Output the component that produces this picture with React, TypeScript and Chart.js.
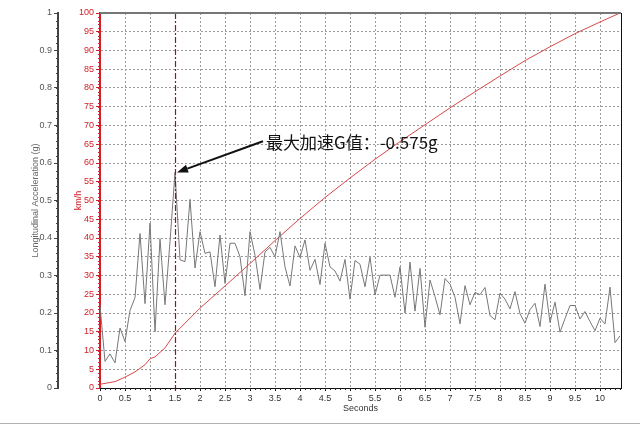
import React, { useEffect, useRef } from 'react';
import { Chart, registerables } from 'chart.js';

Chart.register(...registerables);

const accelTimes = [
  0.0, 0.1, 0.2, 0.3, 0.4, 0.5, 0.6, 0.7, 0.8, 0.9,
  1.0, 1.1, 1.2, 1.3, 1.4, 1.5, 1.6, 1.7, 1.8, 1.9,
  2.0, 2.1, 2.2, 2.3, 2.4, 2.5, 2.6, 2.7, 2.8, 2.9,
  3.0, 3.1, 3.2, 3.3, 3.4, 3.5, 3.6, 3.7, 3.8, 3.9,
  4.0, 4.1, 4.2, 4.3, 4.4, 4.5, 4.6, 4.7, 4.8, 4.9,
  5.0, 5.1, 5.2, 5.3, 5.4, 5.5, 5.6, 5.7, 5.8, 5.9,
  6.0, 6.1, 6.2, 6.3, 6.4, 6.5, 6.6, 6.7, 6.8, 6.9,
  7.0, 7.1, 7.2, 7.3, 7.4, 7.5, 7.6, 7.7, 7.8, 7.9,
  8.0, 8.1, 8.2, 8.3, 8.4, 8.5, 8.6, 8.7, 8.8, 8.9,
  9.0, 9.1, 9.2, 9.3, 9.4, 9.5, 9.6, 9.7, 9.8, 9.9,
  10.0, 10.1, 10.2, 10.3, 10.4,
];

const accelG = [
  0.22, 0.071, 0.091, 0.067, 0.16, 0.124, 0.207, 0.241, 0.412, 0.225,
  0.44, 0.15, 0.398, 0.222, 0.39, 0.575, 0.342, 0.337, 0.503, 0.32,
  0.417, 0.359, 0.363, 0.27, 0.408, 0.279, 0.386, 0.386, 0.35, 0.246,
  0.417, 0.354, 0.263, 0.363, 0.375, 0.35, 0.417, 0.323, 0.272, 0.379,
  0.348, 0.395, 0.314, 0.343, 0.276, 0.386, 0.323, 0.312, 0.285, 0.343,
  0.237, 0.34, 0.33, 0.27, 0.349, 0.248, 0.301, 0.301, 0.301, 0.242,
  0.323, 0.2, 0.336, 0.205, 0.319, 0.162, 0.288, 0.244, 0.195, 0.292,
  0.277, 0.242, 0.171, 0.273, 0.222, 0.255, 0.249, 0.268, 0.193, 0.182,
  0.253, 0.237, 0.211, 0.257, 0.198, 0.173, 0.209, 0.226, 0.164, 0.277,
  0.175, 0.229, 0.149, 0.185, 0.22, 0.22, 0.184, 0.204, 0.177, 0.153,
  0.186, 0.171, 0.269, 0.121, 0.139,
];

const speedTimes = [0, 0.3, 0.5, 0.7, 0.9, 1.0, 1.1, 1.3, 1.5, 2, 2.5, 3, 3.5, 4, 4.5, 5, 5.5, 6, 6.5, 7, 7.5, 8, 8.5, 9, 9.5, 10, 10.4];
const speedKmh = [1, 1.7, 2.9, 4.3, 6.2, 7.8, 8.3, 10.7, 14.6, 21.3, 27.2, 33.2, 39.3, 45.2, 50.8, 56, 61, 65.7, 70.2, 74.7, 79, 83.2, 87.3, 91, 94.5, 97.6, 100];

const markerTime = 1.5;
const peakG = 0.575;
const annotationText = '最大加速G值：-0.575g';
const annotationAt = { t: 3.32, kmh: 65.5 };
const arrowFrom = { t: 3.26, kmh: 65.8 };

const xTitle = 'Seconds';
const gTitle = 'Longitudinal Acceleration (g)';
const speedTitle = 'km/h';

const RED = '#d0202a';

const extrasPlugin = {
  id: 'extras',
  afterDatasetsDraw(chart: any) {
    const { ctx, chartArea } = chart;
    const xs = chart.scales.x;
    ctx.save();
    const mx = Math.round(xs.getPixelForValue(markerTime)) + 0.5;
    ctx.strokeStyle = '#8b1a1a';
    ctx.lineWidth = 1.2;
    ctx.setLineDash([6, 2, 2, 2]);
    ctx.beginPath();
    ctx.moveTo(mx, chartArea.top);
    ctx.lineTo(mx, chartArea.bottom + 4);
    ctx.stroke();
    ctx.setLineDash([]);
    ctx.restore();
  },
  afterDraw(chart: any) {
    const { ctx, chartArea } = chart;
    const xs = chart.scales.x;
    const ks = chart.scales.kmh;
    const gs = chart.scales.g;
    ctx.save();
    ctx.strokeStyle = '#777';
    ctx.lineWidth = 2;
    ctx.beginPath();
    ctx.moveTo(chartArea.left, chartArea.top);
    ctx.lineTo(chartArea.right, chartArea.top);
    ctx.stroke();
    ctx.strokeStyle = '#111';
    ctx.lineWidth = 1;
    ctx.beginPath();
    ctx.moveTo(Math.round(chartArea.right) + 0.5, chartArea.top);
    ctx.lineTo(Math.round(chartArea.right) + 0.5, chartArea.bottom);
    ctx.stroke();

    ctx.lineWidth = 1;
    ctx.strokeStyle = '#222';
    ctx.beginPath();
    for (let i = 0; i <= 104; i++) {
      const px = Math.round(xs.getPixelForValue(i / 10)) + 0.5;
      ctx.moveTo(px, chartArea.bottom);
      ctx.lineTo(px, chartArea.bottom + 2);
    }
    ctx.stroke();
    ctx.strokeStyle = RED;
    ctx.beginPath();
    for (let i = 0; i <= 100; i++) {
      const py = Math.round(ks.getPixelForValue(i)) + 0.5;
      ctx.moveTo(chartArea.left - 2, py);
      ctx.lineTo(chartArea.left, py);
    }
    ctx.stroke();
    ctx.strokeStyle = '#444';
    ctx.beginPath();
    for (let i = 0; i <= 50; i++) {
      const py = Math.round(gs.getPixelForValue(i / 50)) + 0.5;
      ctx.moveTo(gs.right - 2, py);
      ctx.lineTo(gs.right, py);
    }
    ctx.stroke();

    const tx = xs.getPixelForValue(annotationAt.t);
    const ty = ks.getPixelForValue(annotationAt.kmh);
    ctx.fillStyle = '#111';
    ctx.font = '17px "Noto Sans CJK SC", sans-serif';
    ctx.textBaseline = 'middle';
    ctx.textAlign = 'left';
    ctx.fillText(annotationText, tx, ty);

    const ax0 = xs.getPixelForValue(arrowFrom.t);
    const ay0 = ks.getPixelForValue(arrowFrom.kmh);
    const ax1 = xs.getPixelForValue(markerTime) + 2;
    const ay1 = gs.getPixelForValue(peakG);
    const ang = Math.atan2(ay1 - ay0, ax1 - ax0);
    const headLen = 11;
    const headW = 4;
    const bx = ax1 - headLen * Math.cos(ang);
    const by = ay1 - headLen * Math.sin(ang);
    ctx.strokeStyle = '#111';
    ctx.lineWidth = 2;
    ctx.beginPath();
    ctx.moveTo(ax0, ay0);
    ctx.lineTo(bx, by);
    ctx.stroke();
    ctx.fillStyle = '#111';
    ctx.beginPath();
    ctx.moveTo(ax1, ay1);
    ctx.lineTo(bx + headW * Math.sin(ang), by - headW * Math.cos(ang));
    ctx.lineTo(bx - headW * Math.sin(ang), by + headW * Math.cos(ang));
    ctx.closePath();
    ctx.fill();

    ctx.strokeStyle = '#b0b0b0';
    ctx.lineWidth = 1;
    ctx.beginPath();
    ctx.moveTo(0, 423.5);
    ctx.lineTo(chart.width, 423.5);
    ctx.stroke();
    ctx.restore();
  },
};

export default function App() {
  const canvasRef = useRef<HTMLCanvasElement | null>(null);

  useEffect(() => {
    document.body.style.margin = '0';
    document.body.style.background = '#fff';
    const canvas = canvasRef.current;
    if (!canvas) return;
    Chart.defaults.font.family = '"Liberation Sans", Arial, sans-serif';

    const chart = new Chart(canvas, {
      type: 'line',
      data: {
        datasets: [
          {
            label: 'accel',
            data: accelTimes.map((t, i) => ({ x: t, y: accelG[i] })),
            yAxisID: 'g',
            borderColor: '#777',
            borderWidth: 1,
            pointRadius: 0,
            tension: 0,
            fill: false,
          },
          {
            label: 'speed',
            data: speedTimes.map((t, i) => ({ x: t, y: speedKmh[i] })),
            yAxisID: 'kmh',
            borderColor: '#d84848',
            borderWidth: 1,
            pointRadius: 0,
            tension: 0,
            fill: false,
          },
        ],
      },
      options: {
        animation: false,
        responsive: false,
        devicePixelRatio: 1,
        events: [],
        layout: { padding: { left: 30, top: 13, right: 19, bottom: 8 } },
        plugins: {
          legend: { display: false },
          tooltip: { enabled: false },
        },
        scales: {
          x: {
            type: 'linear',
            position: 'bottom',
            min: 0,
            max: 10.42,
            afterFit: (s: any) => {
              s.height = 30;
            },
            ticks: {
              stepSize: 0.5,
              includeBounds: false,
              autoSkip: false,
              maxRotation: 0,
              color: '#333',
              font: { size: 9 },
              padding: 2,
              callback: (v: any) => String(Math.round(Number(v) * 10) / 10),
            },
            grid: {
              color: '#9a9a9a',
              lineWidth: 1,
              drawTicks: true,
              tickLength: 3,
              tickColor: '#111',
            },
            border: { color: '#111', width: 1, dash: [2, 2] },
            title: {
              display: true,
              text: xTitle,
              color: '#333',
              font: { size: 9 },
              padding: { top: 4, bottom: 4 },
            },
          },
          kmh: {
            type: 'linear',
            position: 'left',
            weight: 0,
            min: 0,
            max: 100,
            afterFit: (s: any) => {
              s.width = 42;
            },
            ticks: {
              stepSize: 5,
              color: RED,
              font: { size: 9 },
              padding: 2,
              autoSkip: false,
            },
            grid: {
              color: '#9a9a9a',
              lineWidth: 1,
              drawTicks: true,
              tickLength: 4,
              tickColor: RED,
            },
            border: { color: RED, width: 2, dash: [2, 2] },
            title: {
              display: true,
              text: speedTitle,
              color: RED,
              font: { size: 9 },
              padding: { top: 15, bottom: 0 },
            },
          },
          g: {
            type: 'linear',
            position: 'left',
            weight: 1,
            min: 0,
            max: 1,
            afterFit: (s: any) => {
              s.width = 28;
            },
            ticks: {
              stepSize: 0.1,
              color: '#555',
              font: { size: 9 },
              padding: 2,
              autoSkip: false,
              callback: (v: any) => String(Math.round(Number(v) * 10) / 10),
            },
            grid: {
              drawOnChartArea: false,
              drawTicks: true,
              tickLength: 4,
              tickColor: '#444',
            },
            border: { color: '#444', width: 2 },
            title: {
              display: true,
              text: gTitle,
              color: '#666',
              font: { size: 9 },
              padding: { top: 0, bottom: 0 },
            },
          },
        },
      },
      plugins: [extrasPlugin],
    });

    return () => {
      chart.destroy();
    };
  }, []);

  return (
    <canvas
      ref={canvasRef}
      width={640}
      height={426}
      style={{ display: 'block', width: 640, height: 426 }}
    />
  );
}
